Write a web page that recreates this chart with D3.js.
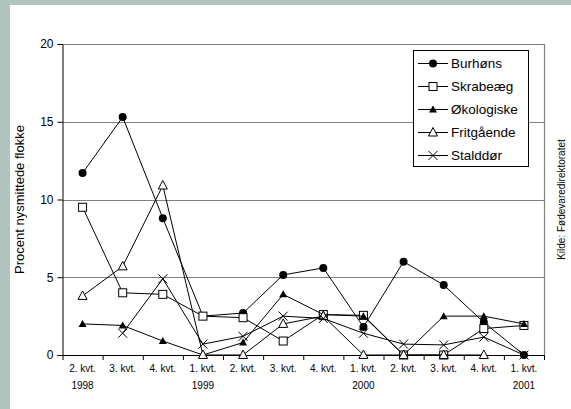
<!DOCTYPE html>
<html>
<head>
<meta charset="utf-8">
<script src="https://cdn.jsdelivr.net/npm/d3@7"></script>
<style>
  html, body { margin: 0; padding: 0; background: #ffffff; }
  svg { display: block; }
  text { font-family: Arial, "Liberation Sans", sans-serif; fill: #000; }
</style>
</head>
<body>
<script>
// Quarter labels along the x axis (two lines: quarter, year)
const quarters = ["2. kvt.", "3. kvt.", "4. kvt.", "1. kvt.", "2. kvt.", "3. kvt.",
                  "4. kvt.", "1. kvt.", "2. kvt.", "3. kvt.", "4. kvt.", "1. kvt."];
const years = ["1998", "", "", "1999", "", "", "", "2000", "", "", "", "2001"];

// Percent newly infected flocks per production type
const burhons     = [11.7, 15.3, 8.8, 2.5, 2.7, 5.15, 5.6, 1.8, 6.0, 4.5, 2.1, 0];
const skrabeaeg   = [9.5, 4.0, 3.9, 2.5, 2.4, 0.9, 2.6, 2.55, 0, 0, 1.7, 1.9];
const okologiske  = [2.0, 1.9, 0.9, 0, 0.8, 3.9, 2.6, 2.5, 0, 2.5, 2.5, 2.0];
const fritgaaende = [3.8, 5.7, 10.9, 0, 0, 2.0, 2.5, 0, 0, 0, 0, null];
const stalddor    = [null, 1.4, 4.9, 0.7, 1.2, 2.5, 2.35, 1.4, 0.7, 0.65, 1.15, 0];

const seriesNames = ["Burhøns", "Skrabeæg", "Økologiske", "Fritgående", "Stalddør"];
const seriesValues = [burhons, skrabeaeg, okologiske, fritgaaende, stalddor];
const seriesMarkers = ["circle", "square", "triangleFilled", "triangleOpen", "cross"];

const yTicks = [0, 5, 10, 15, 20];

const W = 571, H = 409;
const svg = d3.select("body").append("svg").attr("width", W).attr("height", H);

// outer frame
svg.append("rect").attr("x", 0).attr("y", 0).attr("width", W).attr("height", H).attr("fill", "#b1c4bf");
svg.append("rect").attr("x", 10).attr("y", 5).attr("width", W - 10).attr("height", H - 5).attr("fill", "#ffffff");

const plot = { left: 62.5, right: 544, top: 44, bottom: 355 };

const x = d3.scaleBand().domain(d3.range(quarters.length)).range([plot.left, plot.right]).padding(0);
const cx = i => x(i) + x.bandwidth() / 2;
const y = d3.scaleLinear().domain([0, 20]).range([plot.bottom, plot.top]);

// horizontal gridlines and plot frame
svg.append("g").selectAll("line").data(yTicks.filter(t => t > 0)).join("line")
  .attr("x1", plot.left).attr("x2", plot.right)
  .attr("y1", d => Math.round(y(d)) + 0.5).attr("y2", d => Math.round(y(d)) + 0.5)
  .attr("stroke", "#808080").attr("stroke-width", 1.2);
svg.append("line")
  .attr("x1", plot.right + 0.5).attr("x2", plot.right + 0.5)
  .attr("y1", plot.top).attr("y2", plot.bottom)
  .attr("stroke", "#808080").attr("stroke-width", 1.2);

// y axis
const yAxis = d3.axisLeft(y).tickValues(yTicks).tickSize(5).tickPadding(4).tickFormat(d3.format("d"));
const gy = svg.append("g").attr("transform", `translate(${plot.left},0)`).call(yAxis);
gy.select(".domain").attr("stroke", "#000");
gy.selectAll(".tick line").attr("stroke", "#000");
gy.selectAll(".tick text").attr("font-size", 12).attr("font-family", "Arial, 'Liberation Sans', sans-serif");

// x axis: ticks on category boundaries
const xb = d3.scaleLinear().domain([0, quarters.length]).range([plot.left, plot.right]);
const gx = svg.append("g").attr("transform", `translate(0,${plot.bottom})`)
  .call(d3.axisBottom(xb).tickValues(d3.range(quarters.length + 1)).tickSize(5).tickFormat(""));
gx.select(".domain").attr("stroke", "#000").attr("d", `M${plot.left},0.5H${plot.right}`);
gx.selectAll(".tick line").attr("stroke", "#000");

// category labels
const lab = svg.append("g");
lab.selectAll("text.q").data(quarters).join("text").attr("class", "q")
  .attr("x", (d, i) => cx(i)).attr("y", 372)
  .attr("text-anchor", "middle").attr("font-size", 10).text(d => d);
lab.selectAll("text.yr").data(years).join("text").attr("class", "yr")
  .attr("x", (d, i) => cx(i)).attr("y", 389)
  .attr("text-anchor", "middle").attr("font-size", 10).text(d => d);

// axis title and source note
svg.append("text").attr("transform", `translate(24,${(plot.top + plot.bottom) / 2}) rotate(-90)`)
  .attr("text-anchor", "middle").attr("font-size", 13).text("Procent nysmittede flokke");
svg.append("text").attr("transform", `translate(565,${(plot.top + plot.bottom) / 2}) rotate(-90)`)
  .attr("text-anchor", "middle").attr("font-size", 10).text("Kilde: Fødevaredirektoratet");

// marker drawing
function drawMarker(g, type, px, py) {
  if (type === "circle") {
    g.append("circle").attr("cx", px).attr("cy", py).attr("r", 4).attr("fill", "#000");
  } else if (type === "square") {
    g.append("rect").attr("x", px - 4).attr("y", py - 4).attr("width", 8).attr("height", 8)
      .attr("fill", "#fff").attr("stroke", "#000").attr("stroke-width", 1);
  } else if (type === "triangleFilled") {
    g.append("path").attr("d", `M${px},${py - 4}L${px + 4},${py + 3}L${px - 4},${py + 3}Z`).attr("fill", "#000");
  } else if (type === "triangleOpen") {
    g.append("path").attr("d", `M${px},${py - 5}L${px + 4.5},${py + 3.5}L${px - 4.5},${py + 3.5}Z`)
      .attr("fill", "#fff").attr("stroke", "#000").attr("stroke-width", 1);
  } else if (type === "cross") {
    g.append("path").attr("d", `M${px - 4.5},${py - 4.5}L${px + 4.5},${py + 4.5}M${px + 4.5},${py - 4.5}L${px - 4.5},${py + 4.5}`)
      .attr("stroke", "#000").attr("stroke-width", 1).attr("fill", "none");
  }
}

const line = d3.line().defined(d => d != null).x((d, i) => cx(i)).y(d => y(d));

seriesValues.forEach((vals, s) => {
  const g = svg.append("g");
  g.append("path").attr("d", line(vals)).attr("fill", "none").attr("stroke", "#000").attr("stroke-width", 1);
  vals.forEach((v, i) => { if (v != null) drawMarker(g, seriesMarkers[s], cx(i), y(v)); });
});

// legend
const lg = svg.append("g");
lg.append("rect").attr("x", 413.5).attr("y", 50.5).attr("width", 115).attr("height", 116)
  .attr("fill", "#fff").attr("stroke", "#000").attr("stroke-width", 1);
seriesNames.forEach((name, s) => {
  const ry = 63.5 + s * 23;
  lg.append("line").attr("x1", 418).attr("x2", 448).attr("y1", ry).attr("y2", ry)
    .attr("stroke", "#000").attr("stroke-width", 1);
  drawMarker(lg, seriesMarkers[s], 433, ry);
  lg.append("text").attr("x", 451).attr("y", ry).attr("dy", "0.35em")
    .attr("font-size", 13.5).text(name);
});
</script>
</body>
</html>
